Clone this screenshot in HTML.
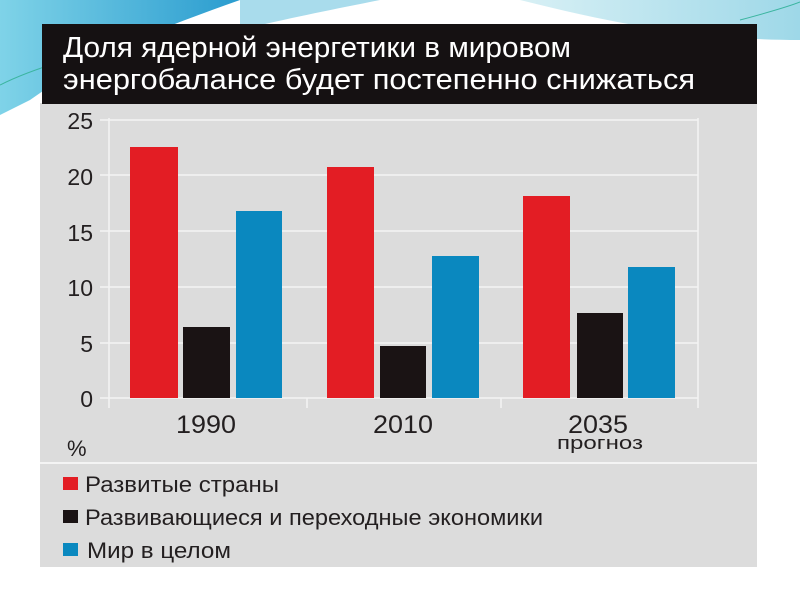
<!DOCTYPE html>
<html><head><meta charset="utf-8"><style>
body{margin:0;width:800px;height:600px;background:#fff;overflow:hidden;position:relative;font-family:"Liberation Sans",sans-serif}
</style></head><body>
<svg width="800" height="600" style="position:absolute;left:0;top:0">
<defs>
<linearGradient id="g1" x1="0" y1="0" x2="1" y2="0"><stop offset="0" stop-color="#7fd3e8"/><stop offset="1" stop-color="#2a9ccf"/></linearGradient>
<linearGradient id="g2" x1="0" y1="0" x2="1" y2="0"><stop offset="0" stop-color="#d8f0f5"/><stop offset="1" stop-color="#9ed8e8"/></linearGradient>
</defs>
<path d="M0,0 L240,0 C170,25 100,50 30,100 L0,115 Z" fill="url(#g1)"/>
<path d="M240,0 L380,0 C330,10 280,20 240,30 Z" fill="#a9dcec"/>
<path d="M520,0 L800,0 L800,40 C700,40 620,25 520,0 Z" fill="url(#g2)"/>
<path d="M740,20 C770,12 790,6 800,2" stroke="#3bb5a0" fill="none"/>
<path d="M0,85 C20,75 40,68 60,62" stroke="#3bb5a0" fill="none"/>
<rect x="40" y="103" width="717" height="464" fill="#dcdcdc"/>
<rect x="42" y="24" width="715" height="80" fill="#151112"/>
<text x="63" y="57" fill="#fff" font-size="29" textLength="508" lengthAdjust="spacingAndGlyphs">Доля ядерной энергетики в мировом</text>
<text x="63" y="89" fill="#fff" font-size="29" textLength="632" lengthAdjust="spacingAndGlyphs">энергобалансе будет постепенно снижаться</text>
<g stroke="#f4f4f4" stroke-width="1.5">
<line x1="100" y1="120" x2="698" y2="120"/><line x1="100" y1="175" x2="698" y2="175"/><line x1="100" y1="231" x2="698" y2="231"/><line x1="100" y1="287" x2="698" y2="287"/><line x1="100" y1="343" x2="698" y2="343"/><line x1="100" y1="398" x2="698" y2="398"/>
<line x1="109" y1="118" x2="109" y2="408"/><line x1="698" y1="118" x2="698" y2="408"/><line x1="307" y1="398" x2="307" y2="408"/><line x1="501" y1="398" x2="501" y2="408"/>
<line x1="40" y1="463" x2="757" y2="463" stroke-width="2"/>
</g>
<g font-size="23" fill="#231f20" text-anchor="end">
<text x="93" y="129">25</text><text x="93" y="185">20</text><text x="93" y="241">15</text><text x="93" y="296">10</text><text x="93" y="352">5</text><text x="93" y="407">0</text>
</g>
<g fill="#e31d24"><rect x="130" y="147" width="48" height="251"/><rect x="327" y="167" width="47" height="231"/><rect x="523" y="196" width="47" height="202"/></g>
<g fill="#1a1314"><rect x="183" y="327" width="47" height="71"/><rect x="380" y="346" width="46" height="52"/><rect x="577" y="313" width="46" height="85"/></g>
<g fill="#0a88bf"><rect x="236" y="211" width="46" height="187"/><rect x="432" y="256" width="47" height="142"/><rect x="628" y="267" width="47" height="131"/></g>
<g font-size="25" fill="#231f20">
<text x="176" y="433" textLength="60" lengthAdjust="spacingAndGlyphs">1990</text><text x="373" y="433" textLength="60" lengthAdjust="spacingAndGlyphs">2010</text><text x="568" y="433" textLength="60" lengthAdjust="spacingAndGlyphs">2035</text>
<text x="557" y="449" font-size="18" textLength="86" lengthAdjust="spacingAndGlyphs">прогноз</text>
</g>
<text x="67" y="456" font-size="22" fill="#231f20">%</text>
<rect x="63" y="477" width="15" height="13" fill="#e31d24"/>
<rect x="63" y="510" width="15" height="13" fill="#1a1314"/>
<rect x="63" y="543" width="15" height="13" fill="#0a88bf"/>
<g font-size="22" fill="#231f20">
<text x="85" y="492" textLength="194" lengthAdjust="spacingAndGlyphs">Развитые страны</text>
<text x="85" y="525" textLength="458" lengthAdjust="spacingAndGlyphs">Развивающиеся и переходные экономики</text>
<text x="87" y="558" textLength="144" lengthAdjust="spacingAndGlyphs">Мир в целом</text>
</g>
</svg>
</body></html>
